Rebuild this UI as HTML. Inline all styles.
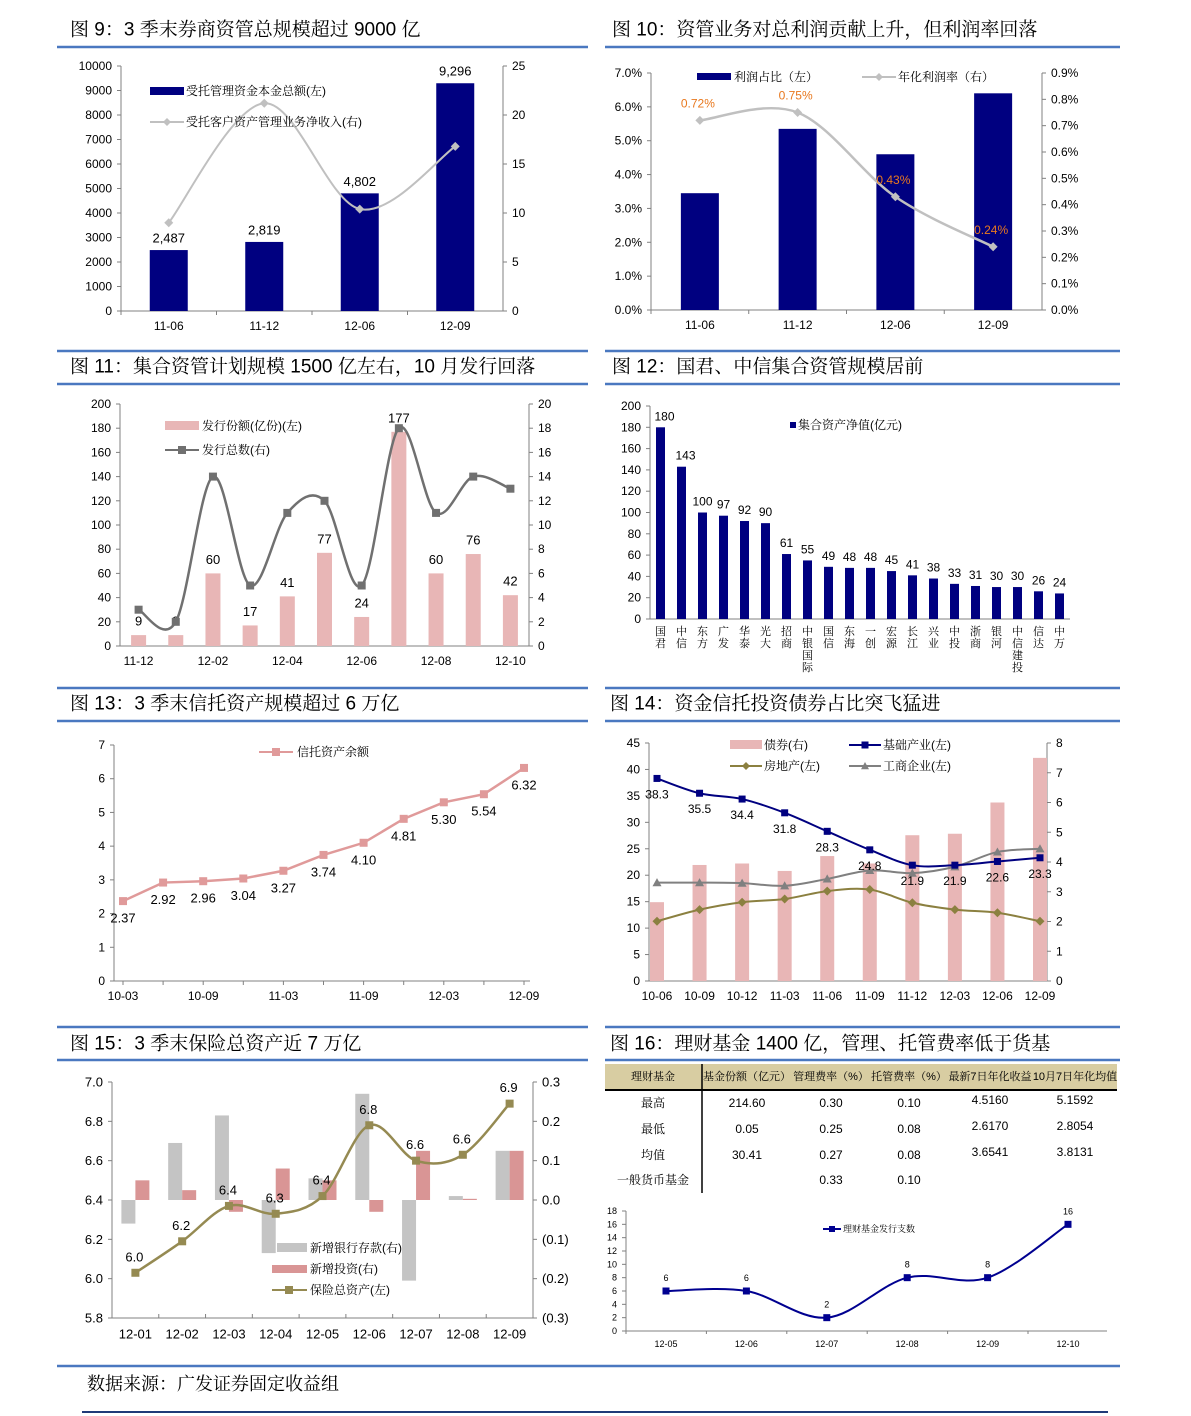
<!DOCTYPE html>
<html><head><meta charset="utf-8"><style>
html,body{margin:0;padding:0;background:#fff;}
svg{display:block;font-family:"Liberation Sans","Noto Sans CJK SC",sans-serif;}
</style></head><body>
<svg id="page" xmlns="http://www.w3.org/2000/svg" width="1191" height="1416" viewBox="0 0 1191 1416"></svg>
<script>
// ---- Chart 9 data
const cats9=['11-06','11-12','12-06','12-09'];
const bars9=[2487,2819,4802,9296];
const line9=[9.0,21.2,10.4,16.8];
const ticksL9=[0,1000,2000,3000,4000,5000,6000,7000,8000,9000,10000];
const ticksR9=[0,5,10,15,20,25];
// ---- Chart 10 data
const cats10=['11-06','11-12','12-06','12-09'];
const bars10=[3.45,5.35,4.6,6.4];
const line10=[0.72,0.75,0.43,0.24];
const ticksL10=[0,1,2,3,4,5,6,7];
const ticksR10=[0,0.1,0.2,0.3,0.4,0.5,0.6,0.7,0.8,0.9];
// ---- Chart 11 data
const cats11=['11-12','12-01','12-02','12-03','12-04','12-05','12-06','12-07','12-08','12-09','12-10'];
const bars11=[9,9,60,17,41,77,24,177,60,76,42];
const line11=[3,2,14,5,11,12,5,18,11,14,13];
const ticksL11=[0,20,40,60,80,100,120,140,160,180,200];
const ticksR11=[0,2,4,6,8,10,12,14,16,18,20];
// ---- Chart 12 data
const cats12=['国君','中信','东方','广发','华泰','光大','招商','中银国际','国信','东海','一创','宏源','长江','兴业','中投','浙商','银河','中信建投','信达','中万'];
const bars12=[180,143,100,97,92,90,61,55,49,48,48,45,41,38,33,31,30,30,26,24];
const ticks12=[0,20,40,60,80,100,120,140,160,180,200];
// ---- Chart 13 data
const cats13=['10-03','10-06','10-09','10-12','11-03','11-06','11-09','11-12','12-03','12-06','12-09'];
const line13=[2.37,2.92,2.96,3.04,3.27,3.74,4.10,4.81,5.30,5.54,6.32];
const ticks13=[0,1,2,3,4,5,6,7];
// ---- Chart 14 data
const cats14=['10-06','10-09','10-12','11-03','11-06','11-09','11-12','12-03','12-06','12-09'];
const bond14=[2.65,3.9,3.95,3.7,4.2,3.95,4.9,4.95,6.0,7.5];
const infra14=[38.3,35.5,34.4,31.8,28.3,24.8,21.9,21.9,22.6,23.3];
const estate14=[11.3,13.5,14.9,15.5,17.0,17.3,14.8,13.5,12.9,11.3];
const corp14=[18.6,18.6,18.5,18.0,19.3,20.9,20.4,21.6,24.4,25.0];
const ticksL14=[0,5,10,15,20,25,30,35,40,45];
const ticksR14=[0,1,2,3,4,5,6,7,8];
// ---- Chart 15 data
const cats15=['12-01','12-02','12-03','12-04','12-05','12-06','12-07','12-08','12-09'];
const dep15=[-0.06,0.145,0.215,-0.135,0.055,0.27,-0.205,0.01,0.125];
const inv15=[0.05,0.025,-0.03,0.08,0.05,-0.03,0.125,0.003,0.125];
const asset15=[6.03,6.19,6.37,6.33,6.42,6.78,6.60,6.63,6.89];
const assetLbl15=['6.0','6.2','6.4','6.3','6.4','6.8','6.6','6.6','6.9'];
const ticksL15=[5.8,6.0,6.2,6.4,6.6,6.8,7.0];
const ticksR15=[-0.3,-0.2,-0.1,0,0.1,0.2,0.3];
// ---- Chart 16 data
const cats16=['12-05','12-06','12-07','12-08','12-09','12-10'];
const line16=[6,6,2,8,8,16];
const ticks16=[0,2,4,6,8,10,12,14,16,18];

const NS='http://www.w3.org/2000/svg';
const svg=document.getElementById('page');
const CJK='"Liberation Sans","Noto Serif CJK SC",serif';
function el(tag,attrs,name,parent){
  const e=document.createElementNS(NS,tag);
  for(const k in attrs)e.setAttribute(k,attrs[k]);
  
  
  (parent||svg).appendChild(e);return e;
}
function txt(x,y,s,name,o){
  o=o||{};
  const t=el('text',{x:x,y:y,'font-size':o.size||12,'text-anchor':o.anchor||'start',fill:o.fill||'#000','font-family':o.fam||'"Liberation Sans","Noto Sans CJK SC",sans-serif','dominant-baseline':'central'},name,o.parent);
  t.textContent=s;return t;
}
function lin(d0,d1,r0,r1){return v=>r0+(v-d0)*(r1-r0)/(d1-d0);}
function line(x1,y1,x2,y2,c,w,name,g){return el('line',{x1:x1,y1:y1,x2:x2,y2:y2,stroke:c,'stroke-width':w||1},name,g);}
function smooth(p){
  let d='M'+p[0][0]+','+p[0][1];
  for(let i=0;i<p.length-1;i++){
    const p0=p[i-1]||p[i],p1=p[i],p2=p[i+1],p3=p[i+2]||p2;
    d+=' C'+(p1[0]+(p2[0]-p0[0])/6)+','+(p1[1]+(p2[1]-p0[1])/6)+' '+(p2[0]-(p3[0]-p1[0])/6)+','+(p2[1]-(p3[1]-p1[1])/6)+' '+p2[0]+','+p2[1];
  }return d;
}
function straight(p){return 'M'+p.map(q=>q[0]+','+q[1]).join(' L');}
function marker(type,x,y,s,c,name,g){
  if(type==='sq')return el('rect',{x:x-s,y:y-s,width:2*s,height:2*s,fill:c},name,g);
  if(type==='di')return el('polygon',{points:(x)+','+(y-s)+' '+(x+s)+','+y+' '+x+','+(y+s)+' '+(x-s)+','+y,fill:c},name,g);
  return el('polygon',{points:x+','+(y-s)+' '+(x+s)+','+(y+s*0.8)+' '+(x-s)+','+(y+s*0.8),fill:c},name,g);
}
function yAxis(g,x,ticks,sc,side,fmt,size){
  line(x,sc(ticks[0]),x,sc(ticks[ticks.length-1]),'#808080',1,'axis-line',g);
  ticks.forEach(t=>{
    const y=sc(t);
    line(side<0?x-4:x,y,side<0?x:x+4,y,'#808080',1,'axis-tick',g);
    txt(side<0?x-9:x+9,y,fmt(t),'tick-label',{anchor:side<0?'end':'start',size:size||12,parent:g});
  });
}
function pct(d){return v=>v.toFixed(d);}
function paren(v){return v<0?'('+Math.abs(v).toFixed(1)+')':v.toFixed(1);}

// ---- page chrome
const chrome=el('g',{},'page-chrome');
[47,351,384,688,721,1027,1060].forEach(y=>{
  line(57,y,588,y,'#4a78c0',2.5,'section-rule',chrome);
  line(605,y,1120,y,'#4a78c0',2.5,'section-rule',chrome);
});
line(57,1366,1120,1366,'#4a78c0',2.5,'section-rule',chrome);
line(82,1412,1108,1412,'#1f3a78',2,'footer-rule',chrome);
const titles=[[70,30,'图 9：3 季末券商资管总规模超过 9000 亿'],[612,30,'图 10：资管业务对总利润贡献上升，但利润率回落'],
[70,367,'图 11：集合资管计划规模 1500 亿左右，10 月发行回落'],[612,367,'图 12：国君、中信集合资管规模居前'],
[70,704,'图 13：3 季末信托资产规模超过 6 万亿'],[610,704,'图 14：资金信托投资债券占比突飞猛进'],
[70,1044,'图 15：3 季末保险总资产近 7 万亿'],[610,1044,'图 16：理财基金 1400 亿，管理、托管费率低于货基']];
titles.forEach(t=>txt(t[0],t[1],t[2],'chart-title',{size:19,fam:CJK,parent:chrome}));
txt(87,1384,'数据来源：广发证券固定收益组','source-note',{size:18,fam:CJK,parent:chrome});

// ---- Chart 9
(function(){
  const g=el('g',{},'chart-9');
  const x0=121,x1=503,y0=66,y1=311,w=(x1-x0)/cats9.length;
  const yl=lin(0,10000,y1,y0),yr=lin(0,25,y1,y0),xc=i=>x0+(i+0.5)*w;
  yAxis(g,x0,ticksL9,yl,-1,v=>String(v));
  yAxis(g,x1,ticksR9,yr,1,v=>String(v));
  line(x0,y1,x1,y1,'#808080',1,'x-axis',g);
  cats9.forEach((c,i)=>{
    el('rect',{x:xc(i)-19,y:yl(bars9[i]),width:38,height:y1-yl(bars9[i]),fill:'#000080'},'bar-'+c,g);
    txt(xc(i),yl(bars9[i])-12,bars9[i].toLocaleString('en-US'),'bar-value',{anchor:'middle',size:13,parent:g});
    txt(xc(i),326,c,'x-tick-label',{anchor:'middle',parent:g});
    line(x0+i*w,y1,x0+i*w,y1+4,'#808080',1,'x-tick',g);
  });
  const pts=line9.map((v,i)=>[xc(i),yr(v)]);
  el('path',{d:smooth(pts),fill:'none',stroke:'#c0c0c0','stroke-width':2},'income-line',g);
  pts.forEach(p=>marker('di',p[0],p[1],4.5,'#c0c0c0','income-point',g));
  el('rect',{x:150,y:87,width:34,height:8,fill:'#000080'},'legend-swatch-aum',g);
  txt(186,91,'受托管理资金本金总额(左)','legend-entry',{size:12,fam:CJK,parent:g});
  line(150,122,184,122,'#c0c0c0',2,'legend-swatch-income',g);marker('di',167,122,4,'#c0c0c0','legend-marker',g);
  txt(186,122,'受托客户资产管理业务净收入(右)','legend-entry',{size:12,fam:CJK,parent:g});
})();

// ---- Chart 10
(function(){
  const g=el('g',{},'chart-10');
  const x0=651,x1=1042,y0=73,y1=310,w=(x1-x0)/cats10.length;
  const yl=lin(0,7,y1,y0),yr=lin(0,0.9,y1,y0),xc=i=>x0+(i+0.5)*w;
  yAxis(g,x0,ticksL10,yl,-1,v=>v.toFixed(1)+'%');
  yAxis(g,x1,ticksR10,yr,1,v=>v.toFixed(1)+'%');
  line(x0,y1,x1,y1,'#808080',1,'x-axis',g);
  cats10.forEach((c,i)=>{
    el('rect',{x:xc(i)-19,y:yl(bars10[i]),width:38,height:y1-yl(bars10[i]),fill:'#000080'},'bar-'+c,g);
    txt(xc(i),325,c,'x-tick-label',{anchor:'middle',parent:g});
    line(x0+i*w,y1,x0+i*w,y1+4,'#808080',1,'x-tick',g);
  });
  const pts=line10.map((v,i)=>[xc(i),yr(v)]);
  el('path',{d:smooth(pts),fill:'none',stroke:'#c0c0c0','stroke-width':2.5},'margin-line',g);
  pts.forEach((p,i)=>{marker('di',p[0],p[1],4.5,'#c0c0c0','margin-point',g);
    txt(p[0]-2,p[1]-17,line10[i].toFixed(2)+'%','point-label',{anchor:'middle',size:12,fill:'#e8781e',parent:g});});
  el('rect',{x:697,y:73,width:34,height:7,fill:'#000080'},'legend-swatch-share',g);
  txt(734,77,'利润占比（左）','legend-entry',{size:12,fam:CJK,parent:g});
  line(862,77,896,77,'#c0c0c0',2,'legend-swatch-margin',g);marker('di',879,77,4,'#c0c0c0','legend-marker',g);
  txt(898,77,'年化利润率（右）','legend-entry',{size:12,fam:CJK,parent:g});
})();

// ---- Chart 11
(function(){
  const g=el('g',{},'chart-11');
  const x0=120,x1=529,y0=404,y1=646,w=(x1-x0)/cats11.length;
  const yl=lin(0,200,y1,y0),yr=lin(0,20,y1,y0),xc=i=>x0+(i+0.5)*w;
  yAxis(g,x0,ticksL11,yl,-1,v=>String(v));
  yAxis(g,x1,ticksR11,yr,1,v=>String(v));
  line(x0,y1,x1,y1,'#808080',1,'x-axis',g);
  cats11.forEach((c,i)=>{
    el('rect',{x:xc(i)-7.5,y:yl(bars11[i]),width:15,height:y1-yl(bars11[i]),fill:'#e8b6b6'},'bar-'+c,g);
    txt(xc(i),yl(bars11[i])-14,String(bars11[i]),'bar-value',{anchor:'middle',size:13,parent:g});
    if(i%2===0)txt(xc(i),661,c,'x-tick-label',{anchor:'middle',parent:g});
  });
  const pts=line11.map((v,i)=>[xc(i),yr(v)]);
  el('path',{d:smooth(pts),fill:'none',stroke:'#707070','stroke-width':2.5},'count-line',g);
  pts.forEach(p=>marker('sq',p[0],p[1],4,'#707070','count-point',g));
  el('rect',{x:165,y:421,width:34,height:9,fill:'#e8b6b6'},'legend-swatch-volume',g);
  txt(202,426,'发行份额(亿份)(左)','legend-entry',{size:12,fam:CJK,parent:g});
  line(165,450,199,450,'#707070',2,'legend-swatch-count',g);marker('sq',182,450,4,'#707070','legend-marker',g);
  txt(202,450,'发行总数(右)','legend-entry',{size:12,fam:CJK,parent:g});
})();

// ---- Chart 12
(function(){
  const g=el('g',{},'chart-12');
  const x0=650,x1=1070,y0=406,y1=619,w=(x1-x0)/cats12.length;
  const yl=lin(0,200,y1,y0),xc=i=>x0+(i+0.5)*w;
  yAxis(g,x0,ticks12,yl,-1,v=>String(v),12);
  line(x0,y1,x1,y1,'#808080',1,'x-axis',g);
  cats12.forEach((c,i)=>{
    el('rect',{x:xc(i)-4.5,y:yl(bars12[i]),width:9,height:y1-yl(bars12[i]),fill:'#000080'},'bar-'+c,g);
    txt(xc(i)+(i<2?4:0),yl(bars12[i])-11,String(bars12[i]),'bar-value',{anchor:'middle',size:12,parent:g});
    [...c].forEach((ch,k)=>txt(xc(i),632+k*12,ch,'x-tick-label',{anchor:'middle',size:11,fam:CJK,parent:g}));
  });
  el('rect',{x:790,y:422,width:6,height:6,fill:'#000080'},'legend-swatch',g);
  txt(798,425,'集合资产净值(亿元)','legend-entry',{size:12,fam:CJK,parent:g});
})();

// ---- Chart 13
(function(){
  const g=el('g',{},'chart-13');
  const x0=114,x1=530,y0=745,y1=981;
  const yl=lin(0,7,y1,y0),xc=i=>123+i*(524-123)/(cats13.length-1);
  yAxis(g,x0,ticks13,yl,-1,v=>String(v),12);
  line(x0,y1,x1,y1,'#808080',1,'x-axis',g);
  cats13.forEach((c,i)=>{
    line(xc(i),y1,xc(i),y1+4,'#808080',1,'x-tick',g);
    if(i%2===0)txt(xc(i),996,c,'x-tick-label',{anchor:'middle',parent:g});
  });
  const pts=line13.map((v,i)=>[xc(i),yl(v)]);
  el('path',{d:straight(pts),fill:'none',stroke:'#e09a9a','stroke-width':2.5},'trust-assets-line',g);
  pts.forEach((p,i)=>{marker('sq',p[0],p[1],4,'#e09a9a','trust-point',g);
    txt(p[0],p[1]+17,line13[i].toFixed(2),'point-label',{anchor:'middle',size:13,parent:g});});
  line(259,752,293,752,'#e09a9a',2,'legend-swatch',g);marker('sq',276,752,4,'#e09a9a','legend-marker',g);
  txt(297,752,'信托资产余额','legend-entry',{size:12,fam:CJK,parent:g});
})();

// ---- Chart 14
(function(){
  const g=el('g',{},'chart-14');
  const x0=649,x1=1047,y0=743,y1=981;
  const yl=lin(0,45,y1,y0),yr=lin(0,8,y1,y0),xc=i=>657+i*(1040-657)/(cats14.length-1);
  yAxis(g,x0,ticksL14,yl,-1,v=>String(v));
  yAxis(g,x1,ticksR14,yr,1,v=>String(v));
  line(x0,y1,x1,y1,'#808080',1,'x-axis',g);
  cats14.forEach((c,i)=>{
    el('rect',{x:xc(i)-7,y:yr(bond14[i]),width:14,height:y1-yr(bond14[i]),fill:'#e8b6b6'},'bar-bond-'+c,g);
    txt(xc(i),996,c,'x-tick-label',{anchor:'middle',parent:g});
  });
  const series=[[corp14,'#808080','tri','corp'],[estate14,'#8b8040','di','estate'],[infra14,'#000080','sq','infra']];
  series.forEach(s=>{
    const pts=s[0].map((v,i)=>[xc(i),yl(v)]);
    el('path',{d:smooth(pts),fill:'none',stroke:s[1],'stroke-width':2},s[3]+'-line',g);
    pts.forEach(p=>marker(s[2],p[0],p[1],s[2]==='sq'?3.5:4.5,s[1],s[3]+'-point',g));
  });
  infra14.forEach((v,i)=>txt(xc(i),yl(v)+16,v.toFixed(1),'infra-label',{anchor:'middle',size:12,parent:g}));
  el('rect',{x:730,y:740,width:32,height:9,fill:'#e8b6b6'},'legend-swatch-bond',g);
  txt(764,745,'债券(右)','legend-entry',{size:12,fam:CJK,parent:g});
  line(849,745,881,745,'#000080',2,'legend-swatch-infra',g);marker('sq',865,745,3.5,'#000080','legend-marker',g);
  txt(883,745,'基础产业(左)','legend-entry',{size:12,fam:CJK,parent:g});
  line(730,766,762,766,'#8b8040',2,'legend-swatch-estate',g);marker('di',746,766,4,'#8b8040','legend-marker',g);
  txt(764,766,'房地产(左)','legend-entry',{size:12,fam:CJK,parent:g});
  line(849,766,881,766,'#808080',2,'legend-swatch-corp',g);marker('tri',865,766,4,'#808080','legend-marker',g);
  txt(883,766,'工商企业(左)','legend-entry',{size:12,fam:CJK,parent:g});
})();

// ---- Chart 15
(function(){
  const g=el('g',{},'chart-15');
  const x0=112,x1=533,y0=1082,y1=1318,w=(x1-x0)/cats15.length;
  const yl=lin(5.8,7.0,y1,y0),yr=lin(-0.3,0.3,y1,y0),xc=i=>x0+(i+0.5)*w;
  yAxis(g,x0,ticksL15,yl,-1,v=>v.toFixed(1),13);
  yAxis(g,x1,ticksR15,yr,1,paren,13);
  line(x0,y1,x1,y1,'#808080',1,'x-axis',g);
  cats15.forEach((c,i)=>{
    const z=yr(0);
    el('rect',{x:xc(i)-14,y:Math.min(z,yr(dep15[i])),width:14,height:Math.abs(z-yr(dep15[i])),fill:'#c4c4c4'},'bar-deposit-'+c,g);
    el('rect',{x:xc(i),y:Math.min(z,yr(inv15[i])),width:14,height:Math.max(1,Math.abs(z-yr(inv15[i]))),fill:'#d99595'},'bar-invest-'+c,g);
    line(x0+(i+1)*w,y1,x0+(i+1)*w,y1-4,'#808080',1,'x-tick',g);
    txt(xc(i),1334,c,'x-tick-label',{anchor:'middle',size:13,parent:g});
  });
  const pts=asset15.map((v,i)=>[xc(i),yl(v)]);
  el('path',{d:smooth(pts),fill:'none',stroke:'#958a52','stroke-width':2.5},'asset-line',g);
  pts.forEach((p,i)=>{marker('sq',p[0],p[1],4,'#958a52','asset-point',g);
    txt(p[0]-1,p[1]-16,assetLbl15[i],'point-label',{anchor:'middle',size:13,parent:g});});
  el('rect',{x:277,y:1243,width:30,height:9,fill:'#c4c4c4'},'legend-swatch-deposit',g);
  txt(310,1248,'新增银行存款(右)','legend-entry',{size:12,fam:CJK,parent:g});
  el('rect',{x:272,y:1265,width:35,height:8,fill:'#d99595'},'legend-swatch-invest',g);
  txt(310,1269,'新增投资(右)','legend-entry',{size:12,fam:CJK,parent:g});
  line(272,1290,307,1290,'#958a52',2,'legend-swatch-asset',g);marker('sq',289,1290,4,'#958a52','legend-marker',g);
  txt(310,1290,'保险总资产(左)','legend-entry',{size:12,fam:CJK,parent:g});
})();

// ---- Chart 16 table + chart
(function(){
  const g=el('g',{},'fund-table');
  el('rect',{x:605,y:1064,width:512,height:26,fill:'#d8cda2'},'table-header-bg',g);
  line(605,1090,1117,1090,'#000',2,'header-rule',g);
  line(702,1064,702,1193,'#000',1.5,'column-rule',g);
  const cols=[653,747,831,909,990,1075];
  const head=['理财基金','基金份额（亿元）','管理费率（%）','托管费率（%）','最新7日年化收益','10月7日年化均值'];
  head.forEach((h,i)=>txt(cols[i],1077,h,'table-header-cell',{anchor:'middle',size:11,fam:CJK,parent:g}));
  const rows=[['最高','214.60','0.30','0.10','4.5160','5.1592'],['最低','0.05','0.25','0.08','2.6170','2.8054'],['均值','30.41','0.27','0.08','3.6541','3.8131'],['一般货币基金','','0.33','0.10','','']];
  const ry=[1103,1129,1155,1180];
  rows.forEach((r,j)=>r.forEach((c,i)=>{if(c)txt(cols[i],ry[j]-(i>=4?3:0),c,'table-cell',{anchor:'middle',size:12,fam:CJK,parent:g});}));
})();
(function(){
  const g=el('g',{},'chart-16');
  const x0=626,x1=1107,y0=1211,y1=1331;
  const yl=lin(0,18,y1,y0),xc=i=>666+i*(1068-666)/(cats16.length-1);
  yAxis(g,x0,ticks16,yl,-1,v=>String(v),9);
  line(x0,y1,x1,y1,'#808080',1,'x-axis',g);
  cats16.forEach((c,i)=>{
    line(xc(i)-40,y1,xc(i)-40,y1+3,'#808080',1,'x-tick',g);
    txt(xc(i),1344,c,'x-tick-label',{anchor:'middle',size:9,parent:g});
  });
  const pts=line16.map((v,i)=>[xc(i),yl(v)]);
  el('path',{d:smooth(pts),fill:'none',stroke:'#000090','stroke-width':2},'issue-line',g);
  pts.forEach((p,i)=>{marker('sq',p[0],p[1],3.5,'#000090','issue-point',g);
    txt(p[0],p[1]-13,String(line16[i]),'point-label',{anchor:'middle',size:9,parent:g});});
  line(823,1229,841,1229,'#000090',2,'legend-swatch',g);marker('sq',832,1229,3,'#000090','legend-marker',g);
  txt(843,1229,'理财基金发行支数','legend-entry',{size:9,fam:CJK,parent:g});
})();
</script>
</body></html>
